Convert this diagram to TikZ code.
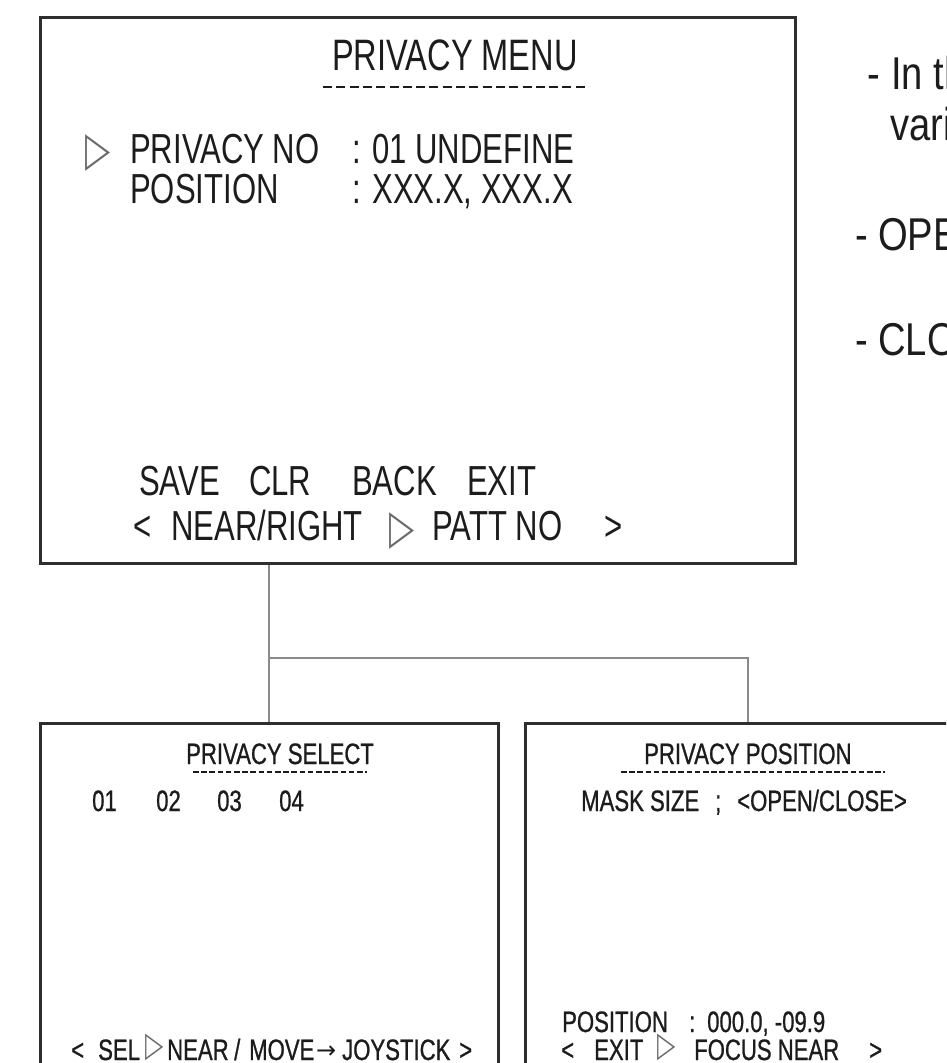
\documentclass[tikz,border=0pt]{standalone}
\usepackage{fontspec}
\setmainfont{Liberation Sans}
\newfontfamily\cf[FakeStretch=0.74]{Liberation Sans}
\newfontfamily\cfr[FakeStretch=0.83]{Liberation Sans}
\newfontfamily\cfs[FakeStretch=0.75,FakeBold=0.8]{Liberation Sans}
\newfontfamily\symf[FakeStretch=0.68]{DejaVu Sans}
\newfontfamily\arrf{DejaVu Sans}
\definecolor{ink}{HTML}{1C1C1C}
\definecolor{tric}{HTML}{6A6A6A}
\definecolor{boxc}{HTML}{2E2E2E}
\definecolor{connc}{HTML}{8A8A8A}
\begin{document}
\begin{tikzpicture}[x=1pt,y=-1pt,
  box/.style={draw=boxc, line width=3pt, inner sep=0pt, rectangle},
  conn/.style={draw=connc, line width=2pt},
  dsh/.style={draw=ink, line width=2.2pt, dash pattern=on 9pt off 4.3pt},
  dshs/.style={draw=ink, line width=1.8pt, dash pattern=on 5.5pt off 2.7pt},
  t/.style={anchor=base west, inner sep=0pt, text=ink, font=\cf\fontsize{42}{42}\selectfont},
  tb/.style={anchor=base west, inner sep=0pt, text=ink, font=\cf\fontsize{44}{44}\selectfont},
  ts/.style={anchor=base west, inner sep=0pt, text=ink, font=\cfs\fontsize{29.5}{29.5}\selectfont},
  tr/.style={anchor=base west, inner sep=0pt, text=ink, font=\cfr\fontsize{46}{46}\selectfont},
  sy/.style={anchor=base west, inner sep=0pt, text=tric, font=\symf\fontsize{48}{48}\selectfont},
  sys/.style={anchor=base west, inner sep=0pt, text=tric, font=\symf\fontsize{35}{35}\selectfont},
  arr/.style={anchor=base west, inner sep=0pt, text=ink, font=\arrf\fontsize{24}{24}\selectfont}
]
\useasboundingbox (0,0) rectangle (946,1063);
\clip (0,0) rectangle (946,1063);

% boxes
\node[box, minimum width=755pt, minimum height=546pt] (topbox) at (417.5,290) {};
\node[box, minimum width=458pt, minimum height=377pt] (selbox) at (269,911.5) {};
\node[box, minimum width=446pt, minimum height=377pt] (posbox) at (748,911.5) {};

% connectors
\coordinate (jn) at (selbox.north |- 0,658);
\draw[conn] (topbox.south -| selbox.north) -- (selbox.north);
\draw[conn] (jn) -| (posbox.north);

% top box texts
\node[tb] (tmenu) at (332,70) {PRIVACY MENU};
\draw[dsh] (323,87) -- (585,87);
\node[sy] (tarr1) at (85,165) {▷};
\node[t] (tpno) at (130,163) {PRIVACY NO};
\node[t] (tpnov) at (352,163) {: 01 UNDEFINE};
\node[t] (tpos) at (130,203) {POSITION};
\node[t] (tposv) at (352,203) {: XXX.X, XXX.X};
\node[t] (tsave) at (139,495) {SAVE};
\node[t] (tclr) at (249,495) {CLR};
\node[t] (tback) at (352,495) {BACK};
\node[t] (texit) at (467,495) {EXIT};
\node[t] (tlt) at (133,540) {<};
\node[t] (tnear) at (171,540) {NEAR/RIGHT};
\node[sy] (tarr2) at (389,543) {▷};
\node[t] (tpatt) at (432,540) {PATT NO};
\node[t] (tgt) at (604,540) {>};

% right side texts
\node[tr] (r1a) at (867,89) {-};
\node[tr] (r1b) at (891,89) {In this};
\node[tr] (r2) at (890,140) {various};
\node[tr] (r3a) at (855,250) {-};
\node[tr] (r3b) at (878,250) {OPEN};
\node[tr] (r4a) at (855,355) {-};
\node[tr] (r4b) at (878,355) {CLOSE};

% select box texts
\node[ts] (ssel) at (186,764) {PRIVACY SELECT};
\draw[dshs] (193,772) -- (367,772);
\node[ts] (s01) at (92,811) {01};
\node[ts] (s02) at (156,811) {02};
\node[ts] (s03) at (217,811) {03};
\node[ts] (s04) at (279,811) {04};
\node[ts] (slt) at (71,1060) {<};
\node[ts] (ssl) at (98,1060) {SEL};
\node[sys] (sarr) at (145,1056) {▷};
\node[ts] (snear) at (167,1060) {NEAR};
\node[ts] (sslash) at (234,1060) {/};
\node[ts] (smove) at (249,1060) {MOVE};
\node[arr] (sto) at (316,1058) {→};
\node[ts] (sjoy) at (342,1060) {JOYSTICK};
\node[ts] (sgt) at (459,1060) {>};

% position box texts
\node[ts] (ppos) at (644,764) {PRIVACY POSITION};
\draw[dshs] (621,772) -- (885,772);
\node[ts] (pmask) at (581,811) {MASK SIZE};
\node[ts] (psemi) at (715,811) {;};
\node[ts] (popen) at (737,811) {<OPEN/CLOSE>};
\node[ts] (pposl) at (562,1032) {POSITION};
\node[ts] (pcol) at (689,1032) {:};
\node[ts] (pval) at (707,1032) {000.0, -09.9};
\node[ts] (plt) at (561,1060) {<};
\node[ts] (pexit) at (594,1060) {EXIT};
\node[sys] (parr) at (657,1056) {▷};
\node[ts] (pfoc) at (694,1060) {FOCUS NEAR};
\node[ts] (pgt) at (869,1060) {>};
\end{tikzpicture}
\end{document}
